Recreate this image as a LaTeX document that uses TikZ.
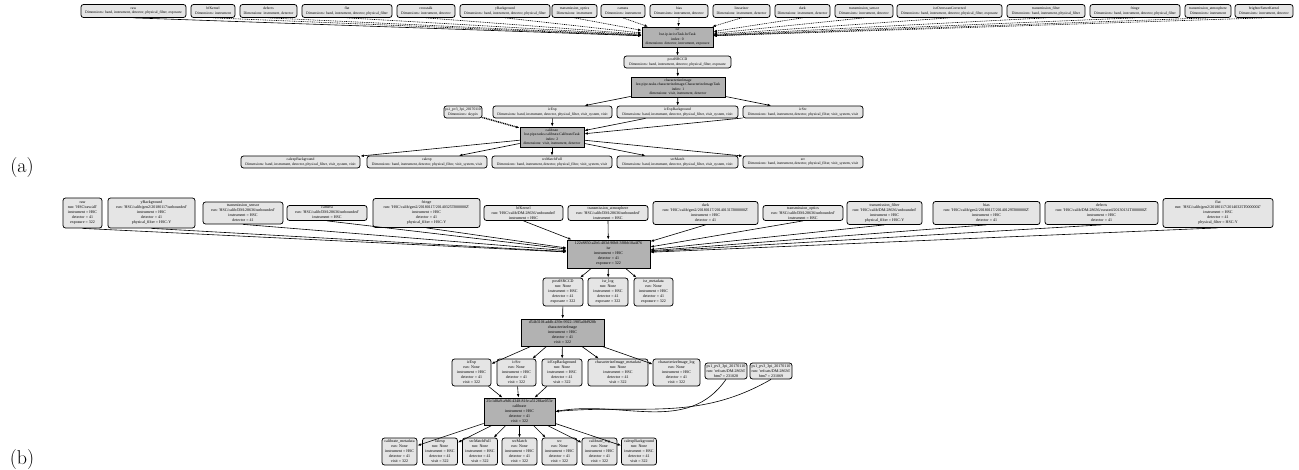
\documentclass[tikz,border=0pt]{standalone}
\usepackage{fontspec}
\newfontfamily\gvfont{Liberation Serif}
\usetikzlibrary{arrows.meta}

\begin{document}
\begin{tikzpicture}[x=1pt,y=-1pt,
	dset/.style={draw, rounded corners=2.5pt, fill=black!10, line width=0.75pt, inner sep=0.3pt, align=center},
	task/.style={draw, fill=black!30, line width=0.75pt, inner sep=0.3pt, align=center},
	flow/.style={-{Latex[length=3.5pt,width=2.6pt]}, line width=0.6pt},
	prereq/.style={flow, dash pattern=on 1pt off 0.8pt}]
	\useasboundingbox (0,0) rectangle (1299,469);
	%%%%%%%%%%%%%%%% (a) pipeline graph
	\begin{scope}[font=\gvfont\fontsize{3.7}{4.6}\selectfont]
	% Inputs of isr
	\node[dset, minimum width=105pt, minimum height=13pt] (araw) at (133.5,11) {raw\\Dimensions: band, instrument, detector, physical\_filter, exposure};
	\node[dset, minimum width=44pt, minimum height=13pt] (abfk) at (213,11) {bfKernel\\Dimensions: instrument};
	\node[dset, minimum width=57pt, minimum height=13pt] (adef) at (268.5,11) {defects\\Dimensions: instrument, detector};
	\node[dset, minimum width=90pt, minimum height=13pt] (aflat) at (347,11) {flat\\Dimensions: band, instrument, detector, physical\_filter};
	\node[dset, minimum width=58pt, minimum height=13pt] (across) at (426,11) {crosstalk\\Dimensions: instrument, detector};
	\node[dset, minimum width=90pt, minimum height=13pt] (aybg) at (505,11) {yBackground\\Dimensions: band, instrument, detector, physical\_filter};
	\node[dset, minimum width=45pt, minimum height=13pt] (atopt) at (574.5,11) {transmission\_optics\\Dimensions: instrument};
	\node[dset, minimum width=44pt, minimum height=13pt] (acam) at (623,11) {camera\\Dimensions: instrument};
	\node[dset, minimum width=58pt, minimum height=13pt] (abias) at (679,11) {bias\\Dimensions: instrument, detector};
	\node[dset, minimum width=57pt, minimum height=13pt] (alin) at (741.5,11) {linearizer\\Dimensions: instrument, detector};
	\node[dset, minimum width=55pt, minimum height=13pt] (adark) at (802.5,11) {dark\\Dimensions: instrument, detector};
	\node[dset, minimum width=58pt, minimum height=13pt] (atsens) at (864,11) {transmission\_sensor\\Dimensions: instrument, detector};
	\node[dset, minimum width=105pt, minimum height=13pt] (aiso) at (949.5,11) {isrOverscanCorrected\\Dimensions: band, instrument, detector, physical\_filter, exposure};
	\node[dset, minimum width=78pt, minimum height=13pt] (atfilt) at (1046,11) {transmission\_filter\\Dimensions: band, instrument, physical\_filter};
	\node[dset, minimum width=90pt, minimum height=13pt] (afringe) at (1135,11) {fringe\\Dimensions: band, instrument, detector, physical\_filter};
	\node[dset, minimum width=46pt, minimum height=13pt] (atatm) at (1208,11) {transmission\_atmosphere\\Dimensions: instrument};
	\node[dset, minimum width=58pt, minimum height=13pt] (abfk2) at (1264,11) {brighterFatterKernel\\Dimensions: instrument, detector};
	% Tasks and outputs
	\node[task, minimum width=71pt, minimum height=20pt] (aisr) at (677.5,37) {isr\\lsst.ip.isr.isrTask.IsrTask\\index: 0\\dimensions: detector, instrument, exposure};
	\node[dset, minimum width=107pt, minimum height=12pt] (apost) at (677.5,62) {postISRCCD\\Dimensions: band, instrument, detector, physical\_filter, exposure};
	\node[task, minimum width=94pt, minimum height=20pt] (aci) at (678,87) {characterizeImage\\lsst.pipe.tasks.characterizeImage.CharacterizeImageTask\\index: 1\\dimensions: visit, instrument, detector};
	\node[dset, minimum width=38pt, minimum height=12pt] (aps) at (463,112) {ps1\_pv3\_3pi\_20170110\\Dimensions: skypix};
	\node[dset, minimum width=119pt, minimum height=12pt] (aicexp) at (552.5,112) {icExp\\Dimensions: band, instrument, detector, physical\_filter, visit\_system, visit};
	\node[dset, minimum width=121pt, minimum height=12pt] (aicbg) at (677.5,112) {icExpBackground\\Dimensions: band, instrument, detector, physical\_filter, visit\_system, visit};
	\node[dset, minimum width=120pt, minimum height=12pt] (aicsrc) at (803,112) {icSrc\\Dimensions: band, instrument, detector, physical\_filter, visit\_system, visit};
	\node[task, minimum width=64pt, minimum height=20pt] (acal) at (552,137) {calibrate\\lsst.pipe.tasks.calibrate.CalibrateTask\\index: 2\\dimensions: visit, instrument, detector};
	\node[dset, minimum width=119pt, minimum height=12pt] (acbg) at (300.5,162) {calexpBackground\\Dimensions: band, instrument, detector, physical\_filter, visit\_system, visit};
	\node[dset, minimum width=120pt, minimum height=12pt] (acexp) at (427,162) {calexp\\Dimensions: band, instrument, detector, physical\_filter, visit\_system, visit};
	\node[dset, minimum width=120pt, minimum height=12pt] (asmf) at (552,162) {srcMatchFull\\Dimensions: band, instrument, detector, physical\_filter, visit\_system, visit};
	\node[dset, minimum width=121pt, minimum height=12pt] (asm) at (677.5,162) {srcMatch\\Dimensions: band, instrument, detector, physical\_filter, visit\_system, visit};
	\node[dset, minimum width=120pt, minimum height=12pt] (asrc) at (803,162) {src\\Dimensions: band, instrument, detector, physical\_filter, visit\_system, visit};
	% Edges
	\draw[flow] (araw.south) -- (aisr);
	\foreach \n in {abfk,adef,aflat,across,aybg,atopt,acam,abias,alin,adark,atsens,aiso,atfilt,afringe,atatm,abfk2}
		\draw[prereq] (\n.south) -- (aisr);
	\draw[flow] (aisr) -- (apost);
	\draw[flow] (apost) -- (aci);
	\foreach \n in {aicexp,aicbg,aicsrc}
		\draw[flow] (aci) -- (\n);
	\foreach \n in {aicexp,aicbg,aicsrc}
		\draw[flow] (\n) -- (acal);
	\draw[prereq, line width=1.4pt] (aps) -- (acal);
	\foreach \n in {acbg,acexp,asmf,asm,asrc}
		\draw[flow] (acal) -- (\n);
	\end{scope}
	\node[font=\fontsize{20}{24}\selectfont] (alabel) at (22,168) {(a)};
	%%%%%%%%%%%%%%%% (b) quantum graph
	\begin{scope}[font=\gvfont\fontsize{4}{5}\selectfont]
	% Inputs of isr
	\node[dset, minimum width=39pt, minimum height=30pt] (braw) at (82.5,213) {raw\\run: 'HSC/raw/all'\\instrument = HSC\\detector = 41\\exposure = 322};
	\node[dset, minimum width=87pt, minimum height=30pt] (bybg) at (151.5,213) {yBackground\\run: 'HSC/calib/gen2/20180117/unbounded'\\instrument = HSC\\detector = 41\\physical\_filter = HSC-Y};
	\node[dset, minimum width=80pt, minimum height=22pt] (btsens) at (243,213) {transmission\_sensor\\run: 'HSC/calib/DM-28636/unbounded'\\instrument = HSC\\detector = 41};
	\node[dset, minimum width=80pt, minimum height=15pt] (bcam) at (327,213) {camera\\run: 'HSC/calib/DM-28636/unbounded'\\instrument = HSC};
	\node[dset, minimum width=107pt, minimum height=29pt] (bfringe) at (426.5,213) {fringe\\run: 'HSC/calib/gen2/20180117/20140325T000000Z'\\instrument = HSC\\detector = 41\\physical\_filter = HSC-Y};
	\node[dset, minimum width=79pt, minimum height=15pt] (bbfk) at (523.5,213) {bfKernel\\run: 'HSC/calib/DM-28636/unbounded'\\instrument = HSC};
	\node[dset, minimum width=80pt, minimum height=15pt] (btatm) at (608,213) {transmission\_atmosphere\\run: 'HSC/calib/DM-28636/unbounded'\\instrument = HSC};
	\node[dset, minimum width=105pt, minimum height=23pt] (bdark) at (705.5,213) {dark\\run: 'HSC/calib/gen2/20180117/20140131T000000Z'\\instrument = HSC\\detector = 41};
	\node[dset, minimum width=80pt, minimum height=15pt] (btopt) at (803,213) {transmission\_optics\\run: 'HSC/calib/DM-28636/unbounded'\\instrument = HSC};
	\node[dset, minimum width=75pt, minimum height=23pt] (btfilt) at (884.5,213) {transmission\_filter\\run: 'HSC/calib/DM-28636/unbounded'\\instrument = HSC\\physical\_filter = HSC-Y};
	\node[dset, minimum width=107pt, minimum height=23pt] (bbias) at (986.5,213) {bias\\run: 'HSC/calib/gen2/20180117/20140129T000000Z'\\instrument = HSC\\detector = 41};
	\node[dset, minimum width=113pt, minimum height=23pt] (bdef) at (1101.5,213) {defects\\run: 'HSC/calib/DM-28636/curated/20130131T000000Z'\\instrument = HSC\\detector = 41};
	\node[dset, minimum width=110pt, minimum height=29pt] (bflat) at (1218,213) {flat\\run: 'HSC/calib/gen2/20180117/20140325T000000Z'\\instrument = HSC\\detector = 41\\physical\_filter = HSC-Y};
	% isr quantum and its outputs
	\node[task, minimum width=83pt, minimum height=28pt] (bisr) at (608.5,254) {122c8850-a2b6-483d-90b8-3f8bb10a4f76\\isr\\instrument = HSC\\detector = 41\\exposure = 322};
	\node[dset, minimum width=40pt, minimum height=28pt] (bpost) at (563,292) {postISRCCD\\run: None\\instrument = HSC\\detector = 41\\exposure = 322};
	\node[dset, minimum width=40pt, minimum height=28pt] (bisrlog) at (608,292) {isr\_log\\run: None\\instrument = HSC\\detector = 41\\exposure = 322};
	\node[dset, minimum width=39pt, minimum height=28pt] (bisrmeta) at (653.5,292) {isr\_metadata\\run: None\\instrument = HSC\\detector = 41\\exposure = 322};
	% characterizeImage quantum and its outputs
	\node[task, minimum width=83pt, minimum height=27pt] (bci) at (562.5,332.5) {d54b310f-addb-439e-9922-1905a0bf928b\\characterizeImage\\instrument = HSC\\detector = 41\\visit = 322};
	\node[dset, minimum width=39pt, minimum height=27pt] (bicexp) at (471.5,372.5) {icExp\\run: None\\instrument = HSC\\detector = 41\\visit = 322};
	\node[dset, minimum width=39pt, minimum height=27pt] (bicsrc) at (516.5,372.5) {icSrc\\run: None\\instrument = HSC\\detector = 41\\visit = 322};
	\node[dset, minimum width=40pt, minimum height=27pt] (bicbg) at (562,372.5) {icExpBackground\\run: None\\instrument = HSC\\detector = 41\\visit = 322};
	\node[dset, minimum width=60pt, minimum height=27pt] (bcimeta) at (618,372.5) {characterizeImage\_metadata\\run: None\\instrument = HSC\\detector = 41\\visit = 322};
	\node[dset, minimum width=47pt, minimum height=27pt] (bcilog) at (676.5,372.5) {characterizeImage\_log\\run: None\\instrument = HSC\\detector = 41\\visit = 322};
	\node[dset, minimum width=42pt, minimum height=16pt] (bpsa) at (726,371) {ps1\_pv3\_3pi\_20170110\\run: 'refcats/DM-28636'\\htm7 = 231028};
	\node[dset, minimum width=42pt, minimum height=16pt] (bpsb) at (771,371) {ps1\_pv3\_3pi\_20170110\\run: 'refcats/DM-28636'\\htm7 = 231069};
	% calibrate quantum and its outputs
	\node[task, minimum width=71pt, minimum height=27pt] (bcal) at (519.5,411.5) {25c1d8a9-a9d6-4348-81fe-a5128fae053e\\calibrate\\instrument = HSC\\detector = 41\\visit = 322};
	\node[dset, minimum width=35pt, minimum height=27pt] (bcalmeta) at (399.5,451.5) {calibrate\_metadata\\run: None\\instrument = HSC\\detector = 41\\visit = 322};
	\node[dset, minimum width=35pt, minimum height=27pt] (bcexp) at (440,451.5) {calexp\\run: None\\instrument = HSC\\detector = 41\\visit = 322};
	\node[dset, minimum width=35pt, minimum height=27pt] (bsmf) at (480,451.5) {srcMatchFull\\run: None\\instrument = HSC\\detector = 41\\visit = 322};
	\node[dset, minimum width=35pt, minimum height=27pt] (bsm) at (519.5,451.5) {srcMatch\\run: None\\instrument = HSC\\detector = 41\\visit = 322};
	\node[dset, minimum width=35pt, minimum height=27pt] (bsrc) at (559.5,451.5) {src\\run: None\\instrument = HSC\\detector = 41\\visit = 322};
	\node[dset, minimum width=35pt, minimum height=27pt] (bcallog) at (599.5,451.5) {calibrate\_log\\run: None\\instrument = HSC\\detector = 41\\visit = 322};
	\node[dset, minimum width=35pt, minimum height=27pt] (bcbg) at (639,451.5) {calexpBackground\\run: None\\instrument = HSC\\detector = 41\\visit = 322};
	% Edges
	\foreach \n in {braw,bybg,btsens,bcam,bfringe,bbfk,btatm,bdark,btopt,btfilt,bbias,bdef,bflat}
		\draw[flow] (\n.south) -- (bisr);
	\foreach \n in {bpost,bisrlog,bisrmeta}
		\draw[flow] (bisr) -- (\n);
	\draw[flow] (bpost) -- (bci);
	\foreach \n in {bicexp,bicsrc,bicbg,bcimeta,bcilog}
		\draw[flow] (bci) -- (\n);
	\foreach \n in {bicexp,bicsrc,bicbg}
		\draw[flow] (\n) -- (bcal);
	\draw[flow] (bpsa.south) to[out=-125,in=10] (bcal.east);
	\draw[flow] (bpsb.south) to[out=-150,in=5] (bcal.east);
	\foreach \n in {bcalmeta,bcexp,bsmf,bsm,bsrc,bcallog,bcbg}
		\draw[flow] (bcal) -- (\n);
	\end{scope}
	\node[font=\fontsize{20}{24}\selectfont] (blabel) at (22,460) {(b)};
\end{tikzpicture}
\end{document}
